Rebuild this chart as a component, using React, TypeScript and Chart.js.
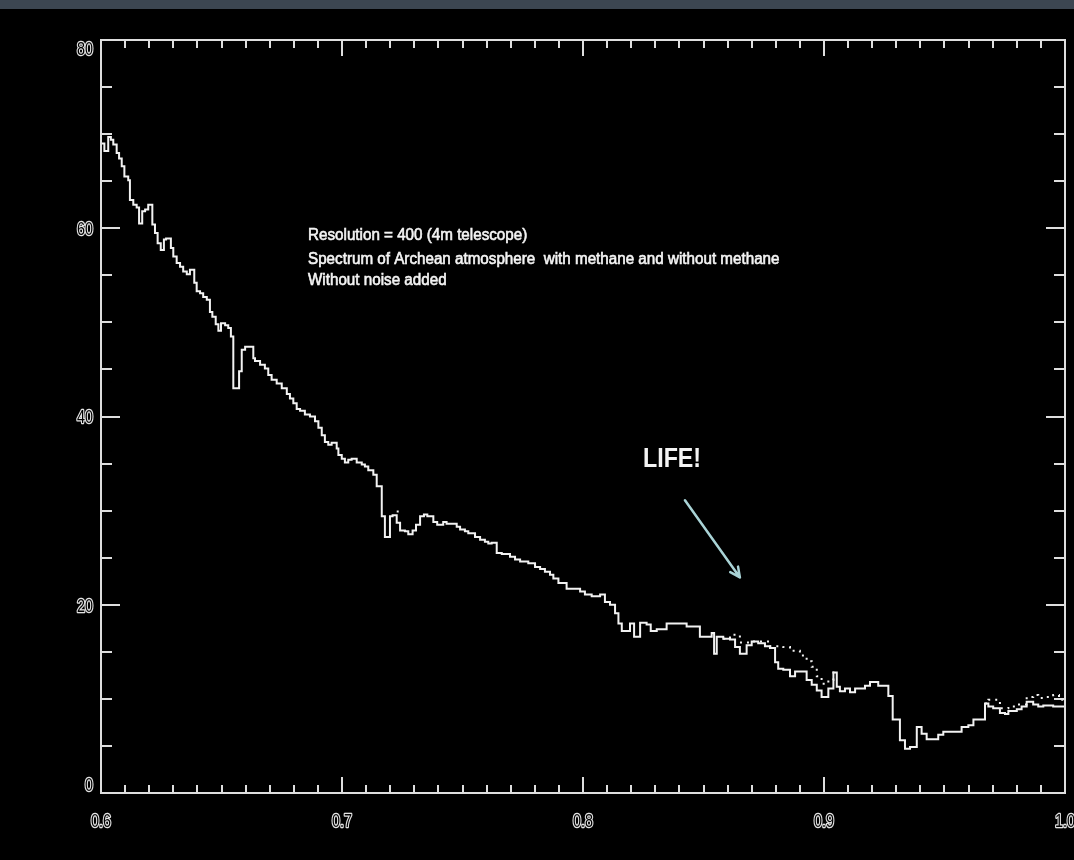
import React, { useEffect, useRef } from "react";
import { Chart, registerables } from "chart.js";

Chart.register(...registerables);

// Wavelength (micron) where each step of the "with methane" spectrum begins
const wavelengthWithMethane = [
  0.6000, 0.6014, 0.6030, 0.6041, 0.6051, 0.6065, 0.6075, 0.6086, 0.6097, 0.6113,
  0.6120, 0.6134, 0.6148, 0.6158, 0.6171, 0.6183, 0.6196, 0.6213, 0.6224, 0.6235,
  0.6248, 0.6261, 0.6270, 0.6290, 0.6300, 0.6314, 0.6328, 0.6341, 0.6356, 0.6369,
  0.6387, 0.6397, 0.6411, 0.6424, 0.6439, 0.6452, 0.6462, 0.6476, 0.6487, 0.6498,
  0.6515, 0.6528, 0.6539, 0.6549, 0.6573, 0.6584, 0.6598, 0.6632, 0.6639, 0.6660,
  0.6680, 0.6694, 0.6708, 0.6729, 0.6750, 0.6771, 0.6784, 0.6798, 0.6812, 0.6826,
  0.6846, 0.6867, 0.6888, 0.6902, 0.6916, 0.6929, 0.6943, 0.6957, 0.6978, 0.6985,
  0.6999, 0.7012, 0.7026, 0.7040, 0.7061, 0.7082, 0.7095, 0.7109, 0.7130, 0.7144,
  0.7165, 0.7178, 0.7199, 0.7210, 0.7227, 0.7241, 0.7261, 0.7275, 0.7293, 0.7307,
  0.7324, 0.7340, 0.7354, 0.7379, 0.7395, 0.7420, 0.7434, 0.7476, 0.7490, 0.7510,
  0.7524, 0.7552, 0.7573, 0.7593, 0.7607, 0.7621, 0.7642, 0.7663, 0.7697, 0.7718,
  0.7739, 0.7773, 0.7801, 0.7822, 0.7842, 0.7863, 0.7877, 0.7898, 0.7932, 0.7988,
  0.8008, 0.8036, 0.8071, 0.8091, 0.8112, 0.8133, 0.8147, 0.8161, 0.8195, 0.8212,
  0.8237, 0.8264, 0.8281, 0.8306, 0.8347, 0.8430, 0.8485, 0.8534, 0.8544, 0.8555,
  0.8582, 0.8610, 0.8631, 0.8651, 0.8679, 0.8700, 0.8727, 0.8755, 0.8776, 0.8797,
  0.8810, 0.8831, 0.8859, 0.8880, 0.8928, 0.8949, 0.8970, 0.8990, 0.9018, 0.9039,
  0.9053, 0.9066, 0.9087, 0.9108, 0.9129, 0.9170, 0.9191, 0.9225, 0.9267, 0.9285,
  0.9315, 0.9336, 0.9357, 0.9385, 0.9405, 0.9426, 0.9474, 0.9495, 0.9571, 0.9599,
  0.9620, 0.9668, 0.9682, 0.9702, 0.9730, 0.9751, 0.9765, 0.9800, 0.9820, 0.9841,
  0.9868, 0.9889, 0.9910, 0.9951, 1.0000,
];

// Flux of the "with methane" spectrum for each step above
const fluxWithMethane = [
  69.0, 68.2, 69.7, 69.4, 68.9, 68.0, 67.4, 66.6, 65.5, 65.1,
  63.0, 62.5, 62.2, 60.5, 61.8, 62.0, 62.5, 60.4, 59.5, 58.4,
  57.7, 58.8, 58.9, 57.9, 57.0, 56.3, 55.9, 55.4, 55.1, 55.6,
  54.2, 53.3, 53.1, 52.7, 52.4, 51.1, 50.6, 49.8, 49.1, 49.9,
  49.7, 49.4, 48.5, 43.0, 44.8, 47.1, 47.4, 46.2, 45.9, 45.5,
  45.1, 44.4, 43.9, 43.5, 43.0, 42.4, 41.9, 41.4, 40.8, 40.6,
  40.2, 40.0, 39.5, 38.8, 38.0, 37.3, 37.0, 37.2, 36.6, 35.9,
  35.5, 35.1, 35.4, 35.5, 35.1, 34.9, 34.7, 34.3, 33.8, 32.6,
  29.4, 27.2, 29.4, 29.5, 28.7, 27.9, 27.8, 27.5, 27.9, 28.5,
  29.4, 29.6, 29.4, 28.8, 28.5, 28.8, 28.6, 28.3, 28.0, 27.8,
  27.6, 27.2, 26.9, 26.7, 26.5, 26.6, 25.5, 25.4, 25.1, 24.8,
  24.6, 24.4, 24.0, 23.8, 23.5, 23.2, 22.8, 22.3, 21.7, 21.4,
  21.1, 20.9, 21.1, 20.3, 20.0, 19.1, 18.0, 17.2, 18.0, 16.6,
  18.1, 17.9, 17.2, 17.4, 18.0, 17.7, 16.6, 17.0, 14.8, 16.6,
  16.4, 16.3, 15.5, 14.8, 15.7, 16.1, 15.9, 15.6, 15.4, 13.9,
  13.2, 13.1, 12.4, 12.9, 12.0, 11.5, 10.9, 10.2, 11.1, 12.8,
  11.3, 10.8, 11.1, 10.7, 11.1, 11.4, 11.8, 11.4, 10.3, 7.8,
  5.6, 4.7, 4.9, 7.0, 6.3, 5.7, 6.2, 6.5, 7.0, 7.2,
  7.8, 9.5, 9.2, 9.0, 8.5, 8.4, 8.7, 8.9, 9.2, 9.7,
  9.4, 9.2, 9.3, 9.2, 9.2,
];

// "Without methane" spectrum: only where it departs from the other one (null = gap)
const wavelengthWithoutMethane = [
  0.7227, 0.7245, 0.7246,
  0.8582, 0.8610, 0.8651, 0.8700, 0.8776, 0.8831, 0.8859, 0.8900, 0.8928, 0.8949,
  0.8970, 0.8990, 0.9018, 0.9039, 0.9053, 0.9054,
  0.9668, 0.9682, 0.9730, 0.9765, 0.9800, 0.9841, 0.9868, 0.9889, 0.9910, 0.9951,
  0.9975, 1.0000,
];
const fluxWithoutMethane = [
  29.9, 29.9, null,
  16.4, 16.8, 16.0, 16.1, 15.6, 15.5, 15.1, 14.6, 14.0, 13.4,
  12.4, 11.6, 12.0, 12.8, 12.8, null,
  9.5, 9.9, 9.0, 9.2, 9.4, 10.2, 10.4, 10.1, 10.2, 10.4,
  9.9, 9.9,
];

const xTickValues = [0.6, 0.7, 0.8, 0.9, 1.0];
const xTickLabels = ["0.6", "0.7", "0.8", "0.9", "1.0"];
const yTickValues = [0, 20, 40, 60, 80];
const yTickLabels = ["0", "20", "40", "60", "80"];

const noteLines = [
  "Resolution = 400 (4m telescope)",
  "Spectrum of Archean atmosphere  with methane and without methane",
  "Without noise added",
];
const noteX = 0.6859;
const noteBaselines = [58.7, 56.2, 54.0];
const lifeText = "LIFE!";
const lifeX = 0.8249;
const lifeBaseline = 34.6;
const arrowStart = { x: 0.8423, y: 31.1 };
const arrowEnd = { x: 0.8651, y: 22.9 };

const FONT = "'Liberation Sans', Arial, Helvetica, sans-serif";

function hollowText(
  ctx: CanvasRenderingContext2D,
  text: string,
  x: number,
  y: number,
  align: CanvasTextAlign,
  sx: number
) {
  ctx.save();
  ctx.translate(x, y);
  ctx.scale(sx, 1);
  ctx.font = `18px ${FONT}`;
  ctx.textAlign = align;
  ctx.textBaseline = "middle";
  ctx.lineJoin = "round";
  ctx.strokeStyle = "#e4e4e4";
  ctx.lineWidth = 2.6;
  ctx.strokeText(text, 0, 0);
  ctx.fillStyle = "#000";
  ctx.fillText(text, 0, 0);
  ctx.restore();
}

const idlPlugin = {
  id: "idlFrame",
  beforeDraw(chart: any) {
    const { ctx, width, height } = chart;
    ctx.save();
    ctx.fillStyle = "#000";
    ctx.fillRect(0, 0, width, height);
    ctx.fillStyle = "#3c4651";
    ctx.fillRect(0, 0, width, 9);
    ctx.restore();
  },
  afterDatasetsDraw(chart: any) {
    const { ctx, chartArea: a } = chart;
    const xs = chart.scales.x;
    const ys = chart.scales.y;
    ctx.save();
    ctx.strokeStyle = "#dedede";
    ctx.lineWidth = 2;
    ctx.beginPath();
    ctx.rect(a.left, a.top, a.right - a.left, a.bottom - a.top);
    ctx.stroke();

    ctx.beginPath();
    const xMinorCount = 40;
    for (let i = 0; i <= xMinorCount; i++) {
      const v = xs.min + ((xs.max - xs.min) * i) / xMinorCount;
      const px = Math.round(xs.getPixelForValue(v));
      const len = i % 10 === 0 ? 16 : 8;
      ctx.moveTo(px, a.bottom);
      ctx.lineTo(px, a.bottom - len);
      ctx.moveTo(px, a.top);
      ctx.lineTo(px, a.top + len);
    }
    const yMinorCount = 16;
    for (let i = 0; i <= yMinorCount; i++) {
      const v = ys.min + ((ys.max - ys.min) * i) / yMinorCount;
      const py = Math.round(ys.getPixelForValue(v));
      const len = i % 4 === 0 ? 19 : 11;
      ctx.moveTo(a.left, py);
      ctx.lineTo(a.left + len, py);
      ctx.moveTo(a.right, py);
      ctx.lineTo(a.right - len, py);
    }
    ctx.stroke();

    xTickValues.forEach((v, i) => {
      hollowText(ctx, xTickLabels[i], xs.getPixelForValue(v), a.bottom + 29, "center", 0.8);
    });
    yTickValues.forEach((v, i) => {
      // labels kept inside the vertical extent of the frame, like the original plot
      const py = Math.min(Math.max(ys.getPixelForValue(v) + 2, a.top + 10), a.bottom - 7);
      hollowText(ctx, yTickLabels[i], a.left - 8, py, "right", 0.8);
    });

    // annotation text
    ctx.fillStyle = "#f4f4f4";
    ctx.strokeStyle = "#f4f4f4";
    ctx.textAlign = "left";
    ctx.textBaseline = "alphabetic";
    noteLines.forEach((t, i) => {
      ctx.save();
      ctx.translate(xs.getPixelForValue(noteX), ys.getPixelForValue(noteBaselines[i]));
      ctx.scale(0.95, 1);
      ctx.font = `16px ${FONT}`;
      ctx.lineWidth = 0.6;
      ctx.strokeText(t, 0, 0);
      ctx.fillText(t, 0, 0);
      ctx.restore();
    });
    ctx.save();
    ctx.translate(xs.getPixelForValue(lifeX), ys.getPixelForValue(lifeBaseline));
    ctx.scale(0.83, 1);
    ctx.font = `bold 28px ${FONT}`;
    ctx.fillText(lifeText, 0, 0);
    ctx.restore();

    // arrow
    const x0 = xs.getPixelForValue(arrowStart.x);
    const y0 = ys.getPixelForValue(arrowStart.y);
    const x1 = xs.getPixelForValue(arrowEnd.x);
    const y1 = ys.getPixelForValue(arrowEnd.y);
    const ang = Math.atan2(y1 - y0, x1 - x0);
    ctx.strokeStyle = "#a9d3d6";
    ctx.lineWidth = 2.5;
    ctx.lineCap = "round";
    ctx.beginPath();
    ctx.moveTo(x0, y0);
    ctx.lineTo(x1, y1);
    const hl = 11;
    ctx.moveTo(x1, y1);
    ctx.lineTo(x1 - hl * Math.cos(ang - 0.45), y1 - hl * Math.sin(ang - 0.45));
    ctx.moveTo(x1, y1);
    ctx.lineTo(x1 - hl * Math.cos(ang + 0.45), y1 - hl * Math.sin(ang + 0.45));
    ctx.stroke();
    ctx.restore();
  },
};

export default function App() {
  const canvasRef = useRef<HTMLCanvasElement>(null);

  useEffect(() => {
    const canvas = canvasRef.current;
    if (!canvas) return;
    const chart = new Chart(canvas, {
      type: "line",
      data: {
        datasets: [
          {
            label: "with methane",
            data: wavelengthWithMethane.map((x, i) => ({ x, y: fluxWithMethane[i] })),
            borderColor: "#f2f2f2",
            borderWidth: 2,
            stepped: true,
            pointRadius: 0,
            fill: false,
          },
          {
            label: "without methane",
            data: wavelengthWithoutMethane.map((x, i) => ({ x, y: fluxWithoutMethane[i] as any })),
            borderColor: "#f2f2f2",
            borderWidth: 2,
            borderDash: [2, 5],
            stepped: true,
            pointRadius: 0,
            fill: false,
            spanGaps: false,
          },
        ],
      },
      options: {
        animation: false,
        responsive: true,
        maintainAspectRatio: false,
        layout: { padding: { top: 40, right: 9, bottom: 0, left: 0 } },
        plugins: { legend: { display: false }, tooltip: { enabled: false } },
        events: [],
        scales: {
          x: {
            type: "linear",
            min: 0.6,
            max: 1.0,
            grid: { display: false, drawTicks: false },
            border: { display: false },
            ticks: { display: false },
            afterFit: (s: any) => {
              s.height = 67;
            },
          },
          y: {
            type: "linear",
            min: 0,
            max: 80,
            grid: { display: false, drawTicks: false },
            border: { display: false },
            ticks: { display: false },
            afterFit: (s: any) => {
              s.width = 101;
            },
          },
        },
      },
      plugins: [idlPlugin],
    });
    return () => chart.destroy();
  }, []);

  return (
    <div style={{ position: "absolute", left: 0, top: 0, width: 1074, height: 860, background: "#000" }}>
      <canvas ref={canvasRef} />
    </div>
  );
}
